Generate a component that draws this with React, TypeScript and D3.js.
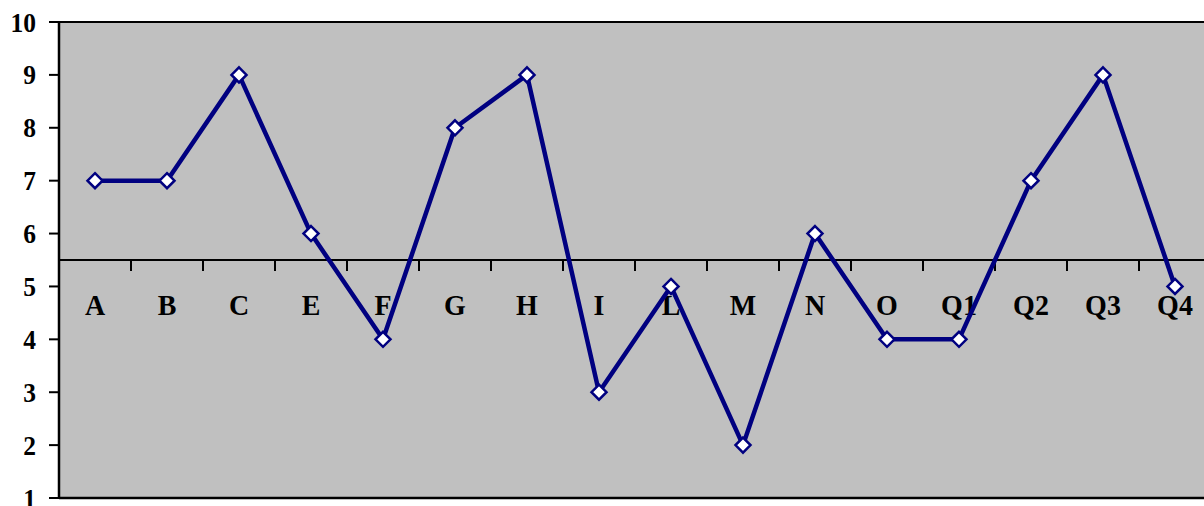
import React from "react";
import * as d3 from "d3";

const categories = ["A", "B", "C", "E", "F", "G", "H", "I", "L", "M", "N", "O", "Q1", "Q2", "Q3", "Q4"];
const values = [7, 7, 9, 6, 4, 8, 9, 3, 5, 2, 6, 4, 4, 7, 9, 5];
const yTicks = [1, 2, 3, 4, 5, 6, 7, 8, 9, 10];
const axisCross = 5.5;

const W = 1204;
const H = 506;
const left = 59;
const top = 22;
const bottom = 498;
const band = 72;
const right = left + band * categories.length;

export default function App() {
  const x = d3.scaleBand<string>().domain(categories).range([left, right]).paddingInner(0).paddingOuter(0);
  const y = d3.scaleLinear().domain([1, 10]).range([bottom, top]);
  const cx = (c: string) => (x(c) ?? 0) + x.bandwidth() / 2;
  const line = d3
    .line<number>()
    .x((_, i) => cx(categories[i]))
    .y((v) => y(v));
  const font = "'Liberation Serif', 'Times New Roman', serif";
  const axisY = y(axisCross);
  const diamond = (px: number, py: number) => {
    const r = 7.5;
    return `M${px},${py - r}L${px + r},${py}L${px},${py + r}L${px - r},${py}Z`;
  };
  return (
    <svg
      width={W}
      height={H}
      style={{ position: "absolute", left: 0, top: 0, display: "block", background: "#fff" }}
    >
      <rect x={left} y={top} width={right - left} height={bottom - top} fill="#C0C0C0" />
      {/* border */}
      <line x1={left} x2={right} y1={top} y2={top} stroke="#000" strokeWidth={2} />
      <line x1={left} x2={right} y1={bottom} y2={bottom} stroke="#000" strokeWidth={2.5} />
      <line x1={left} x2={left} y1={top} y2={bottom} stroke="#000" strokeWidth={2.5} />
      {/* y ticks */}
      {yTicks.map((t) => (
        <g key={t}>
          <line x1={left - 10} x2={left} y1={y(t)} y2={y(t)} stroke="#000" strokeWidth={2} />
          <text
            transform={`translate(36,${y(t) + 9.5}) scale(1,1.1)`}
            textAnchor="end"
            fontFamily={font}
            fontWeight="bold"
            fontSize={25.5}
            fill="#000"
          >
            {t}
          </text>
        </g>
      ))}
      {/* x axis */}
      <line x1={left} x2={right} y1={axisY} y2={axisY} stroke="#000" strokeWidth={2} />
      {categories.slice(1).map((c) => (
        <line
          key={c}
          x1={x(c) ?? 0}
          x2={x(c) ?? 0}
          y1={axisY}
          y2={axisY + 11}
          stroke="#000"
          strokeWidth={2}
        />
      ))}
      {categories.map((c) => (
        <text
          key={c}
          transform={`translate(${cx(c)},${axisY + 55}) scale(1,1.08)`}
          textAnchor="middle"
          fontFamily={font}
          fontWeight="bold"
          fontSize={28}
          fill="#000"
        >
          {c}
        </text>
      ))}
      <path d={line(values) ?? ""} fill="none" stroke="#000080" strokeWidth={4.5} strokeLinejoin="round" />
      {values.map((v, i) => (
        <path
          key={i}
          d={diamond(cx(categories[i]), y(v))}
          fill="#fff"
          stroke="#000080"
          strokeWidth={2.5}
        />
      ))}
    </svg>
  );
}
